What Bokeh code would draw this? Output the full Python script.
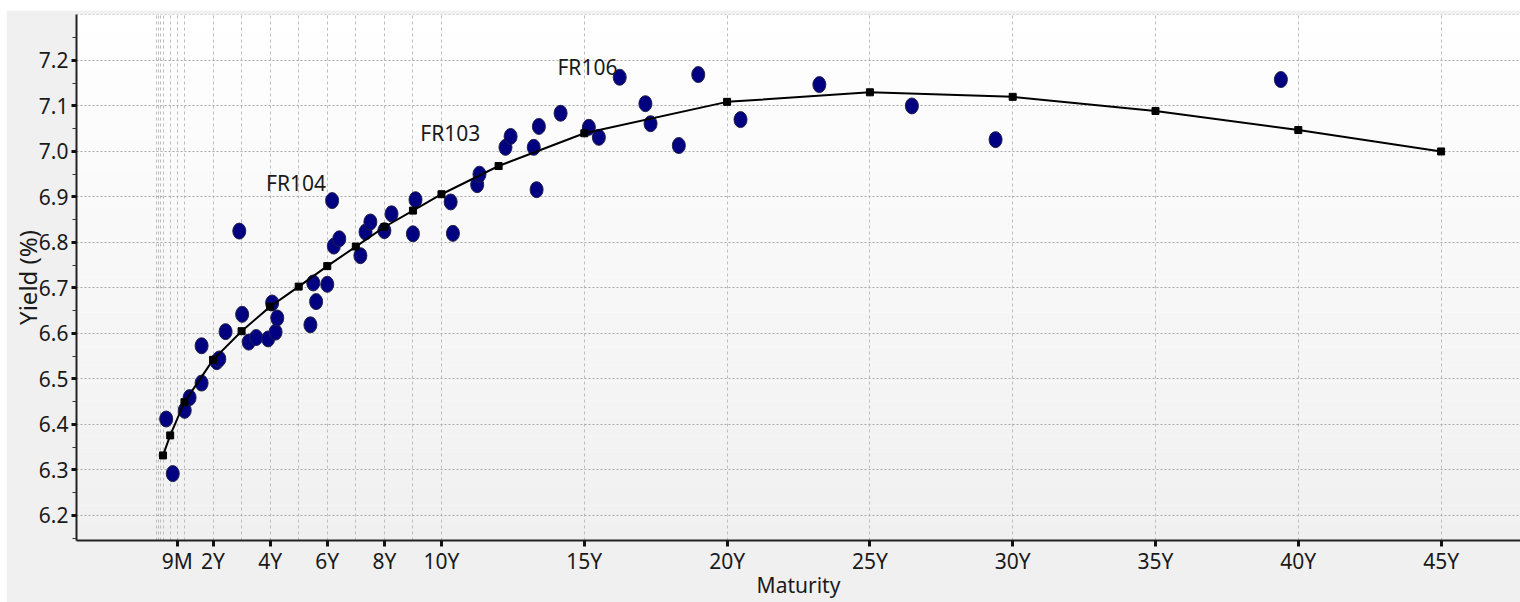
import numpy as np
from bokeh.plotting import figure
from bokeh.models import FixedTicker, Range1d, BoxAnnotation, ColumnDataSource, Spacer
from bokeh.layouts import column, row
from bokeh.embed import file_html
from bokeh.resources import INLINE
from bokeh.core.properties import value

# ---------------- data ----------------
# fitted yield curve nodes (tenor in years, yield %)
curve_tenor = [0.25, 0.5, 1, 2, 3, 4, 5, 6, 7, 8, 9, 10, 12, 15, 20, 25, 30, 35, 40, 45]
curve_yield = [6.332, 6.376, 6.449, 6.542, 6.605, 6.659, 6.703, 6.748, 6.791, 6.834,
               6.870, 6.906, 6.968, 7.040, 7.109, 7.130, 7.120, 7.089, 7.047, 7.000]

# individual bonds (tenor in years, yield %)
bond_tenor = [0.36, 0.59, 1.01, 1.18, 1.60, 1.60, 2.13, 2.22, 2.44, 2.92,
              3.02, 3.25, 3.51, 3.93, 4.07, 4.19, 4.25, 5.41, 5.51, 5.61,
              6.00, 6.17, 6.23, 6.42, 7.16, 7.34, 7.51, 8.00, 8.25, 9.00,
              9.09, 10.32, 10.40, 11.25, 11.33, 12.24, 12.42, 13.23, 13.33, 13.41,
              14.17, 15.16, 15.51, 16.24, 17.14, 17.32, 18.31, 18.99, 20.47, 23.23,
              26.47, 29.40, 39.39]
bond_yield = [6.412, 6.292, 6.431, 6.459, 6.491, 6.573, 6.538, 6.544, 6.604, 6.825,
              6.642, 6.581, 6.591, 6.588, 6.667, 6.603, 6.634, 6.619, 6.711, 6.670,
              6.708, 6.892, 6.792, 6.808, 6.771, 6.823, 6.845, 6.826, 6.863, 6.819,
              6.894, 6.889, 6.820, 6.927, 6.950, 7.009, 7.033, 7.009, 6.916, 7.055,
              7.084, 7.053, 7.031, 7.163, 7.105, 7.061, 7.013, 7.169, 7.070, 7.147,
              7.100, 7.026, 7.158]

# annotation labels
label_text = ["FR104", "FR103", "FR106"]
label_tenor = [5.96, 11.36, 16.16]
label_yield = [6.930, 7.040, 7.185]

# axis ticks
x_tick_values = [0.75, 2, 4, 6, 8, 10, 15, 20, 25, 30, 35, 40, 45]
x_tick_labels = ["9M", "2Y", "4Y", "6Y", "8Y", "10Y", "15Y", "20Y", "25Y", "30Y", "35Y", "40Y", "45Y"]
x_grid_values = [0.02, 1 / 12, 2 / 12, 0.25, 0.5, 0.75, 1, 2, 3, 4, 5, 6, 7, 8, 9, 10,
                 15, 20, 25, 30, 35, 40, 45]
y_tick_values = [6.2, 6.3, 6.4, 6.5, 6.6, 6.7, 6.8, 6.9, 7.0, 7.1, 7.2]
y_tick_labels = ["6.2", "6.3", "6.4", "6.5", "6.6", "6.7", "6.8", "6.9", "7.0", "7.1", "7.2"]
y_minor_values = [6.15, 6.25, 6.35, 6.45, 6.55, 6.65, 6.75, 6.85, 6.95, 7.05, 7.15, 7.25]
y_grid_values = y_tick_values + [7.3]

x_title = "Maturity"
y_title = "Yield (%)"

# ---------------- figure ----------------
FONT = "Noto Sans"
X0, X1 = -2.78, 47.78
Y0, Y1 = 6.145, 7.301

p = figure(width=1514, height=592, output_backend="svg", toolbar_location=None,
           x_range=Range1d(X0, X1), y_range=Range1d(Y0, Y1),
           min_border_left=70, min_border_right=0, min_border_top=4, min_border_bottom=62,
           background_fill_color="#ffffff", border_fill_color="#f0f0f0",
           outline_line_color=None, x_axis_label=x_title, y_axis_label=y_title)

# vertical gradient of the plotting area (white at top -> light grey at bottom)
n_bands = 30
edges = np.linspace(Y0, Y1, n_bands + 1)
for i in range(n_bands):
    frac = (i + 0.5) / n_bands          # 0 at bottom, 1 at top
    g = int(round(240 + 15 * frac))
    p.add_layout(BoxAnnotation(bottom=edges[i], top=edges[i + 1],
                               fill_color=f"#{g:02x}{g:02x}{g:02x}", fill_alpha=1.0,
                               line_color=None, level="image"))

# grids
p.xgrid.ticker = FixedTicker(ticks=x_grid_values)
p.xgrid.grid_line_color = "#bdbdbd"
p.xgrid.grid_line_dash = "3 3"
p.xgrid.grid_line_width = 1
p.ygrid.ticker = FixedTicker(ticks=y_grid_values)
p.ygrid.grid_line_color = "#a8a8a8"
p.ygrid.grid_line_dash = "2 2"
p.ygrid.grid_line_width = 1

# axes
p.xaxis.ticker = FixedTicker(ticks=x_tick_values)
p.xaxis.major_label_overrides = {v: l for v, l in zip(x_tick_values, x_tick_labels)}
p.yaxis.ticker = FixedTicker(ticks=y_tick_values, minor_ticks=y_minor_values)
p.yaxis.major_label_overrides = {v: l for v, l in zip(y_tick_values, y_tick_labels)}

for ax in (p.xaxis, p.yaxis):
    ax.axis_line_color = "#222222"
    ax.axis_line_width = 2
    ax.major_tick_line_color = "#111111"
    ax.major_tick_line_width = 3
    ax.major_tick_out = 6
    ax.major_tick_in = 0
    ax.major_label_text_font = FONT
    ax.major_label_text_font_size = "21px"
    ax.major_label_text_color = "#1a1a1a"
    ax.axis_label_text_font = FONT
    ax.axis_label_text_font_style = "normal"
    ax.axis_label_text_color = "#1a1a1a"

p.xaxis.minor_tick_line_color = None
p.xaxis.major_label_standoff = 0
p.xaxis.axis_label_text_font_size = "21px"
p.xaxis.axis_label_standoff = -7

p.yaxis.minor_tick_line_color = "#333333"
p.yaxis.minor_tick_line_width = 1
p.yaxis.minor_tick_out = 4
p.yaxis.minor_tick_in = 0
p.yaxis.major_tick_out = 5
p.yaxis.major_label_standoff = 3
p.yaxis.axis_label_text_font_size = "24px"
p.yaxis.axis_label_standoff = -8

# bonds
bonds = ColumnDataSource(dict(t=bond_tenor, y=bond_yield))
p.ellipse(x="t", y="y", width=13, height=16, width_units="screen", height_units="screen",
          fill_color="#000080", line_color="#22224a", line_width=1, source=bonds)

# fitted curve
p.line(curve_tenor, curve_yield, line_color="#000000", line_width=2)
p.scatter(curve_tenor, curve_yield, marker="square", size=7,
          fill_color="#000000", line_color="#000000")

# labels
p.text(x=label_tenor, y=label_yield, text=label_text,
       text_font=value(FONT), text_font_size="21px", text_color="#1a1a1a",
       text_align="right", text_baseline="alphabetic")

layout = column(Spacer(width=1520, height=10),
                row(Spacer(width=6, height=592), p))

open("out.html", "w").write(file_html(layout, INLINE))
